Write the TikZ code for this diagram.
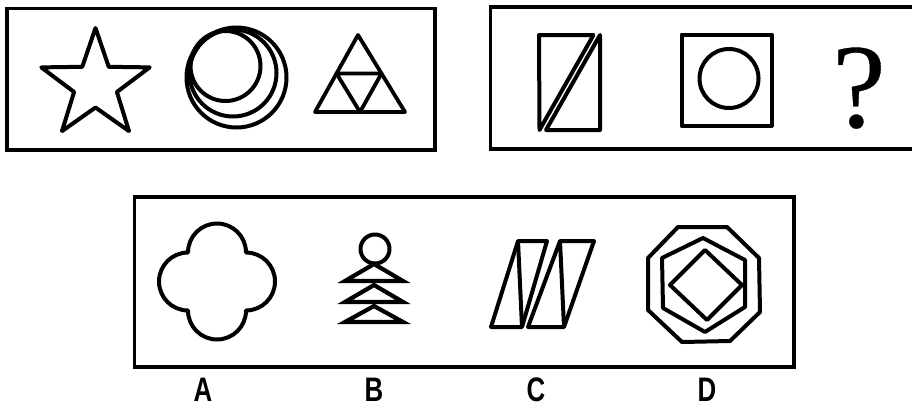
\documentclass[tikz,border=0pt]{standalone}
\usepackage{fontspec}
\newfontfamily\labfont[FakeStretch=0.76]{Liberation Sans Bold}
\newfontfamily\qfont[FakeBold=0.3]{Liberation Serif}
\begin{document}
\begin{tikzpicture}[x=1pt,y=1pt,yscale=-1,
  frame/.style={line width=3.6pt},
  fig/.style={line width=4pt,line join=round},
  figm/.style={line width=4.2pt,line join=miter},
  lab/.style={font=\labfont\fontsize{34}{34}\selectfont,anchor=base,inner sep=0pt}]
\useasboundingbox (0,0) rectangle (912,407);
\clip (0,0) rectangle (912,407);
\fill[white] (0,0) rectangle (912,407);
% frames
\draw[frame] (7,8.5) rectangle (435,150);
\draw[frame] (490.5,7) rectangle (930,149);
\draw[frame] (134.5,197) rectangle (794,367);
% star
\draw[fig] ({95.5+57*cos(-90)},{85+57*sin(-90)})
  \foreach \i in {0,...,4} {
    -- ({95.5+22.5*cos(-90+36+72*\i)},{85+22.5*sin(-90+36+72*\i)})
    -- ({95.5+57*cos(-90+72+72*\i)},{85+57*sin(-90+72+72*\i)})
  } -- cycle;
% circles
\draw[fig] (236.5,77.5) circle[radius=50];
\draw[fig] (233,73) circle[radius=43.5];
\draw[fig] (225.5,66) circle[radius=35];
% triangle of triangles
\draw[line width=3.8pt,line join=round] (358,35) -- (315,112) -- (405,112) -- cycle;
\draw[line width=3.8pt,line join=round] (336.5,73.5) -- (381.5,73.5) -- (360,112) -- cycle;
% rectangle with double diagonal
\draw[fig] (539,35) -- (593.5,35) -- (539.5,130) -- cycle;
\draw[fig] (600,35) -- (600,130) -- (546,130) -- cycle;
% square with circle
\draw[fig] (681.5,34.5) rectangle (771.5,125.5);
\draw[fig] (729,78.5) circle[radius=29.5];
% question mark
\node[inner sep=0pt,anchor=base,font=\qfont\fontsize{120}{120}\selectfont] (q) at (859,127) {?};
% A: clover
\draw[fig] (246,252.5) arc[start angle=0,end angle=-180,radius=29]
  arc[start angle=-90,end angle=-270,radius=29]
  arc[start angle=-180,end angle=-360,radius=29]
  arc[start angle=-270,end angle=-450,radius=29] -- cycle;
% B: circle and stacked triangles
\draw[fig] (375,249) circle[radius=14.5];
\draw[figm] (374,264) -- (345,281) -- (403,281) -- cycle;
\draw[figm] (374,285) -- (345,302) -- (403,302) -- cycle;
\draw[figm] (374,306) -- (345,322) -- (403,322) -- cycle;
% C: two split parallelograms
\draw[fig] (518,241) -- (547,241) -- (522,327) -- (491,327) -- cycle;
\draw[fig] (518,241) -- (522,327);
\draw[fig] (560,241) -- (594,241) -- (564,327) -- (528,327) -- cycle;
\draw[fig] (560,241) -- (564,327);
% D: octagon, hexagon, diamond
\draw[fig] (678,227) -- (727,227) -- (759,258) -- (760,312) -- (730,341) -- (682,342) -- (648,310) -- (648,258) -- cycle;
\draw[fig] (703,238) -- (745,260) -- (745,307) -- (705,332) -- (663,308) -- (662,258) -- cycle;
\draw[fig] (705,250) -- (742,285) -- (707,320) -- (670,285) -- cycle;
% labels
\node[lab] (la) at (203,401.5) {A};
\node[lab] (lb) at (374,401.5) {B};
\node[lab] (lc) at (536,401.5) {C};
\node[lab] (ld) at (707,401.5) {D};
\end{tikzpicture}
\end{document}
